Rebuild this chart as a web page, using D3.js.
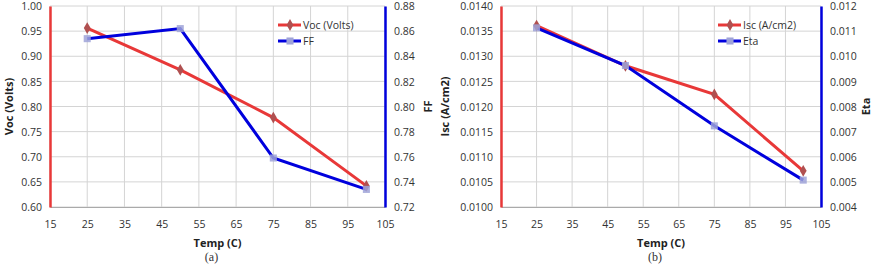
<!DOCTYPE html>
<html>
<head>
<meta charset="utf-8">
<script src="https://cdn.jsdelivr.net/npm/d3@7"></script>
<style>
  body { margin: 0; background: #fff; }
  svg { display: block; font-family: "Open Sans", sans-serif; }
  .tick text { font-size: 10.5px; fill: #333; font-family: "Open Sans", sans-serif; }
  .title { font-size: 11px; font-weight: bold; fill: #222; }
</style>
</head>
<body>
<svg id="chart" width="873" height="266"></svg>
<script>
const temps = [25, 50, 75, 100];
const voc = [0.956, 0.873, 0.778, 0.642];
const ff = [0.854, 0.862, 0.759, 0.734];
const isc = [0.01361, 0.01281, 0.01224, 0.01072];
const eta = [0.01113, 0.00963, 0.00723, 0.00507];
const xTicks = [15, 25, 35, 45, 55, 65, 75, 85, 95, 105];

const svg = d3.select("#chart");
const redLine = "#e83838";
const blueLine = "#0000dd";

const panels = [
  {
    left: 50, right: 385, top: 6, bottom: 207,
    y1: [0.6, 1.0], y1step: 0.05, y1fmt: ".2f",
    y2: [0.72, 0.88], y2step: 0.02, y2fmt: ".2f",
    s1: voc, s2: ff, n1: "Voc (Volts)", n2: "FF",
    t1: "Voc (Volts)", t2: "FF", t1x: 9, t2x: 428,
    legX: 278, cap: "(a)"
  },
  {
    left: 501, right: 821, top: 6, bottom: 207,
    y1: [0.01, 0.014], y1step: 0.0005, y1fmt: ".4f",
    y2: [0.004, 0.012], y2step: 0.001, y2fmt: ".3f",
    s1: isc, s2: eta, n1: "Isc (A/cm2)", n2: "Eta",
    t1: "Isc (A/cm2)", t2: "Eta", t1x: 445, t2x: 866,
    legX: 718, cap: "(b)"
  }
];

panels.forEach((p) => {
  const g = svg.append("g");
  const x = d3.scaleLinear().domain([15, 105]).range([p.left, p.right]);
  const y1 = d3.scaleLinear().domain(p.y1).range([p.bottom, p.top]);
  const y2 = d3.scaleLinear().domain(p.y2).range([p.bottom, p.top]);
  const y1Ticks = d3.range(9).map((i) => p.y1[0] + i * p.y1step);
  const y2Ticks = d3.range(9).map((i) => p.y2[0] + i * p.y2step);

  // grid
  g.append("g")
    .selectAll("line")
    .data(xTicks)
    .join("line")
    .attr("x1", (d) => x(d)).attr("x2", (d) => x(d))
    .attr("y1", p.top).attr("y2", p.bottom)
    .attr("stroke", "#d4d4d4");
  g.append("g")
    .selectAll("line")
    .data(y1Ticks)
    .join("line")
    .attr("x1", p.left).attr("x2", p.right)
    .attr("y1", (d) => y1(d)).attr("y2", (d) => y1(d))
    .attr("stroke", "#d4d4d4");

  // axes
  const xAxis = g.append("g")
    .attr("transform", `translate(0,${p.bottom})`)
    .call(d3.axisBottom(x).tickValues(xTicks).tickSize(0).tickPadding(14));
  xAxis.select(".domain").attr("stroke", "#aaa");

  const yl = g.append("g")
    .attr("transform", `translate(${p.left},0)`)
    .call(d3.axisLeft(y1).tickValues(y1Ticks).tickSize(0).tickPadding(8).tickFormat(d3.format(p.y1fmt)));
  yl.select(".domain").attr("stroke", redLine).attr("stroke-width", 2.5);

  const yr = g.append("g")
    .attr("transform", `translate(${p.right},0)`)
    .call(d3.axisRight(y2).tickValues(y2Ticks).tickSize(0).tickPadding(9).tickFormat(d3.format(p.y2fmt)));
  yr.select(".domain").attr("stroke", blueLine).attr("stroke-width", 2.5);
  g.selectAll(".tick text").attr("dy", "0.35em");
  xAxis.selectAll(".tick text").attr("dy", "0.71em");

  // titles
  const midY = (p.top + p.bottom) / 2;
  g.append("text").attr("class", "title")
    .attr("transform", `translate(${p.t1x},${midY}) rotate(-90)`)
    .attr("text-anchor", "middle").attr("dy", "0.35em").text(p.t1);
  g.append("text").attr("class", "title")
    .attr("transform", `translate(${p.t2x},${midY}) rotate(-90)`)
    .attr("text-anchor", "middle").attr("dy", "0.35em").text(p.t2);
  const cx = (p.left + p.right) / 2;
  g.append("text").attr("class", "title")
    .attr("x", cx).attr("y", 247).attr("text-anchor", "middle").text("Temp (C)");
  g.append("text")
    .attr("x", cx - 6).attr("y", 261).attr("text-anchor", "middle")
    .attr("font-family", "Liberation Serif, serif").attr("font-size", 12).attr("fill", "#333")
    .text(p.cap);

  const line1 = d3.line().x((d, i) => x(temps[i])).y((d) => y1(d));
  const line2 = d3.line().x((d, i) => x(temps[i])).y((d) => y2(d));

  g.append("path").datum(p.s1).attr("d", line1)
    .attr("fill", "none").attr("stroke", redLine).attr("stroke-width", 3);
  g.append("path").datum(p.s2).attr("d", line2)
    .attr("fill", "none").attr("stroke", blueLine).attr("stroke-width", 3);

  const sym1 = d3.symbol().type(d3.symbolDiamond).size(40);
  const sym2 = d3.symbol().type(d3.symbolSquare).size(50);
  g.append("g").selectAll("path")
    .data(p.s1).join("path")
    .attr("d", sym1)
    .attr("transform", (d, i) => `translate(${x(temps[i])},${y1(d)})`)
    .attr("fill", "#b05050");
  g.append("g").selectAll("path")
    .data(p.s2).join("path")
    .attr("d", sym2)
    .attr("transform", (d, i) => `translate(${x(temps[i])},${y2(d)})`)
    .attr("fill", "#9fa3d8").attr("opacity", 0.85);

  // legend
  const leg = [
    { name: p.n1, color: redLine, sym: sym1, fill: "#b05050", y: 25 },
    { name: p.n2, color: blueLine, sym: sym2, fill: "#9fa3d8", y: 41 }
  ];
  const lg = g.append("g");
  leg.forEach((l) => {
    lg.append("line")
      .attr("x1", p.legX).attr("x2", p.legX + 23)
      .attr("y1", l.y).attr("y2", l.y)
      .attr("stroke", l.color).attr("stroke-width", 3);
    lg.append("path").attr("d", l.sym)
      .attr("transform", `translate(${p.legX + 12},${l.y})`)
      .attr("fill", l.fill);
    lg.append("text")
      .attr("x", p.legX + 25).attr("y", l.y).attr("dy", "0.35em")
      .attr("font-size", 10.5).attr("fill", "#333").text(l.name);
  });
});
</script>
</body>
</html>
